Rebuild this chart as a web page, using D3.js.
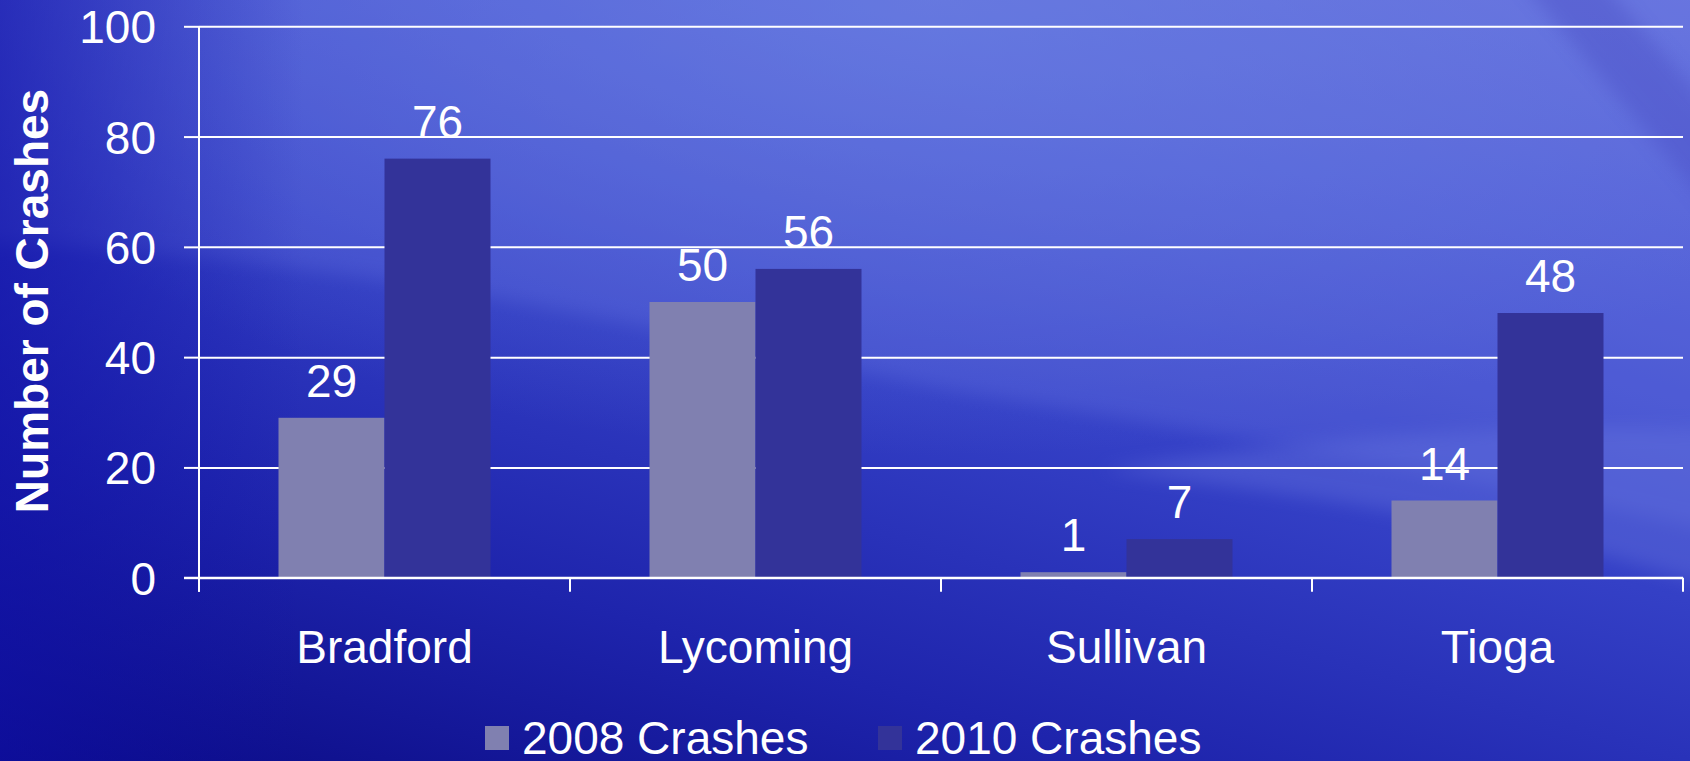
<!DOCTYPE html>
<html>
<head>
<meta charset="utf-8">
<script src="https://cdn.jsdelivr.net/npm/d3@7"></script>
<style>
    html, body { margin: 0; padding: 0; overflow: hidden; }
    svg { display: block; font-family: "Liberation Sans", Arial, sans-serif; }
</style>
</head>
<body>
<div id="container"></div>
<script>
// chart data
var counties = ["Bradford", "Lycoming", "Sullivan", "Tioga"]
var series_names = ["2008 Crashes", "2010 Crashes"]
var crashes_2008 = [29, 50, 1, 14]
var crashes_2010 = [76, 56, 7, 48]
var y_ticks = [0, 20, 40, 60, 80, 100]
var series_colors = ["#8080b0", "#333399"]

main()

function main() {
    const width = 1690
    const height = 761
    const marginLeft = 199
    const marginRight = 7
    const marginTop = 26.3
    const axisY = 577.7

    const svg = d3.select("#container").append("svg")
        .attr("width", width)
        .attr("height", height)

    draw_background(svg, width, height)

    const x0 = d3.scaleBand()
        .domain(counties)
        .range([marginLeft, width - marginRight])
        .padding(0)

    const x1 = d3.scaleBand()
        .domain(series_names)
        .range([0, x0.bandwidth()])
        .paddingInner(0)
        .paddingOuter(0.75)

    const y = d3.scaleLinear()
        .domain([0, 100])
        .range([axisY, marginTop])

    // gridlines with the tick labels
    const yAxis = svg.append("g")
        .attr("transform", `translate(${marginLeft},0)`)
        .call(d3.axisLeft(y).tickValues(y_ticks).tickSize(15).tickPadding(28)
            .tickFormat(d3.format("d")))
    yAxis.select(".domain").remove()
    yAxis.selectAll(".tick line")
        .attr("x2", -15)
        .attr("stroke", "#ffffff")
        .attr("stroke-width", 2)
    yAxis.selectAll(".tick")
        .append("line")
        .attr("x1", 0)
        .attr("x2", width - marginRight - marginLeft)
        .attr("stroke", "#ffffff")
        .attr("stroke-width", 2)
    yAxis.selectAll(".tick text")
        .attr("fill", "#ffffff")
        .style("font-family", "'Liberation Sans', Arial, sans-serif")
        .style("font-size", "46px")
        .attr("dy", "0.36em")

    // bars
    var table = counties.map((c, i) => ({
        county: c,
        values: [
            {name: series_names[0], value: crashes_2008[i]},
            {name: series_names[1], value: crashes_2010[i]}
        ]
    }))

    const groups = svg.append("g")
        .selectAll("g")
        .data(table)
        .join("g")
        .attr("transform", d => `translate(${x0(d.county)},0)`)

    groups.selectAll("rect")
        .data(d => d.values)
        .join("rect")
        .attr("x", d => x1(d.name))
        .attr("y", d => y(d.value))
        .attr("width", x1.bandwidth())
        .attr("height", d => y(0) - y(d.value))
        .attr("fill", (d, i) => series_colors[i])

    groups.selectAll("text")
        .data(d => d.values)
        .join("text")
        .attr("x", d => x1(d.name) + x1.bandwidth() / 2)
        .attr("y", d => y(d.value) - 21)
        .attr("text-anchor", "middle")
        .attr("fill", "#ffffff")
        .style("font-size", "46px")
        .text(d => d.value)

    // y axis line and x axis
    svg.append("line")
        .attr("x1", marginLeft)
        .attr("x2", marginLeft)
        .attr("y1", marginTop)
        .attr("y2", axisY + 14)
        .attr("stroke", "#ffffff")
        .attr("stroke-width", 2)

    const xAxis = svg.append("g")
        .attr("transform", `translate(0,${axisY})`)
        .call(d3.axisBottom(x0).tickSize(0).tickPadding(0))
    xAxis.select(".domain").remove()
    xAxis.selectAll(".tick text")
        .attr("y", 85)
        .attr("dy", 0)
        .attr("fill", "#ffffff")
        .style("font-family", "'Liberation Sans', Arial, sans-serif")
        .style("font-size", "46px")

    svg.append("line")
        .attr("x1", marginLeft - 15)
        .attr("x2", width - marginRight)
        .attr("y1", axisY)
        .attr("y2", axisY)
        .attr("stroke", "#ffffff")
        .attr("stroke-width", 2)

    // boundary ticks between categories
    var edges = counties.map(c => x0(c)).concat([x0.range()[1]])
    svg.append("g")
        .selectAll("line")
        .data(edges)
        .join("line")
        .attr("x1", d => d)
        .attr("x2", d => d)
        .attr("y1", axisY)
        .attr("y2", axisY + 14)
        .attr("stroke", "#ffffff")
        .attr("stroke-width", 2)

    // y axis title
    svg.append("text")
        .attr("transform", `translate(48,301) rotate(-90)`)
        .attr("text-anchor", "middle")
        .attr("fill", "#ffffff")
        .style("font-size", "46px")
        .style("font-weight", "bold")
        .text("Number of Crashes")

    // legend
    var legendX = [485, 878]
    const legend = svg.append("g")
        .selectAll("g")
        .data(series_names)
        .join("g")
        .attr("transform", (d, i) => `translate(${legendX[i]},0)`)
    legend.append("rect")
        .attr("x", 0)
        .attr("y", 726)
        .attr("width", 24)
        .attr("height", 24)
        .attr("fill", (d, i) => series_colors[i])
    legend.append("text")
        .attr("x", 37)
        .attr("y", 754)
        .attr("fill", "#ffffff")
        .style("font-size", "46px")
        .text(d => d)
}

function draw_background(svg, width, height) {
    const defs = svg.append("defs")

    const base = defs.append("linearGradient")
        .attr("id", "bg")
        .attr("x1", 0).attr("y1", 1)
        .attr("x2", 0.75).attr("y2", -0.2)
    base.append("stop").attr("offset", 0).attr("stop-color", "#0a0a84")
    base.append("stop").attr("offset", 0.25).attr("stop-color", "#1e24ac")
    base.append("stop").attr("offset", 0.5).attr("stop-color", "#3440c6")
    base.append("stop").attr("offset", 0.75).attr("stop-color", "#4c5ad4")
    base.append("stop").attr("offset", 1).attr("stop-color", "#6670dc")

    const glow = defs.append("radialGradient")
        .attr("id", "glow")
        .attr("cx", 0.55).attr("cy", 0.0).attr("r", 0.6)
    glow.append("stop").attr("offset", 0).attr("stop-color", "#6d86e2").attr("stop-opacity", 0.6)
    glow.append("stop").attr("offset", 1).attr("stop-color", "#6d86e2").attr("stop-opacity", 0)

    const edge = defs.append("linearGradient")
        .attr("id", "edge")
        .attr("x1", 0).attr("y1", 0)
        .attr("x2", 1).attr("y2", 0)
    edge.append("stop").attr("offset", 0).attr("stop-color", "#1010a8").attr("stop-opacity", 0.6)
    edge.append("stop").attr("offset", 0.18).attr("stop-color", "#1010a8").attr("stop-opacity", 0)

    defs.append("filter")
        .attr("id", "soft")
        .attr("x", -0.2).attr("y", -0.2).attr("width", 1.4).attr("height", 1.4)
        .append("feGaussianBlur")
        .attr("stdDeviation", 9)

    svg.append("rect")
        .attr("width", width)
        .attr("height", height)
        .attr("fill", "url(#bg)")

    svg.append("rect")
        .attr("width", width)
        .attr("height", height)
        .attr("fill", "url(#glow)")

    // lighter band above the diagonal wave
    svg.append("path")
        .attr("d", "M-50,-50 L1750,-50 L1750,540 C1500,480 1200,430 950,390 C650,330 400,260 -50,240 Z")
        .attr("fill", "#7482ea")
        .attr("opacity", 0.22)
        .attr("filter", "url(#soft)")

    // right side lower lighter area
    svg.append("path")
        .attr("d", "M1100,470 C1350,500 1550,530 1750,600 L1750,430 C1500,420 1300,440 1100,470 Z")
        .attr("fill", "#6a78e0")
        .attr("opacity", 0.35)
        .attr("filter", "url(#soft)")

    // darker streak in the top right corner
    svg.append("path")
        .attr("d", "M1520,-20 L1600,-20 L1720,120 L1720,220 Z")
        .attr("fill", "#4446c0")
        .attr("opacity", 0.35)
        .attr("filter", "url(#soft)")

    // darker left edge
    svg.append("rect")
        .attr("width", width)
        .attr("height", height)
        .attr("fill", "url(#edge)")
}
</script>
</body>
</html>
